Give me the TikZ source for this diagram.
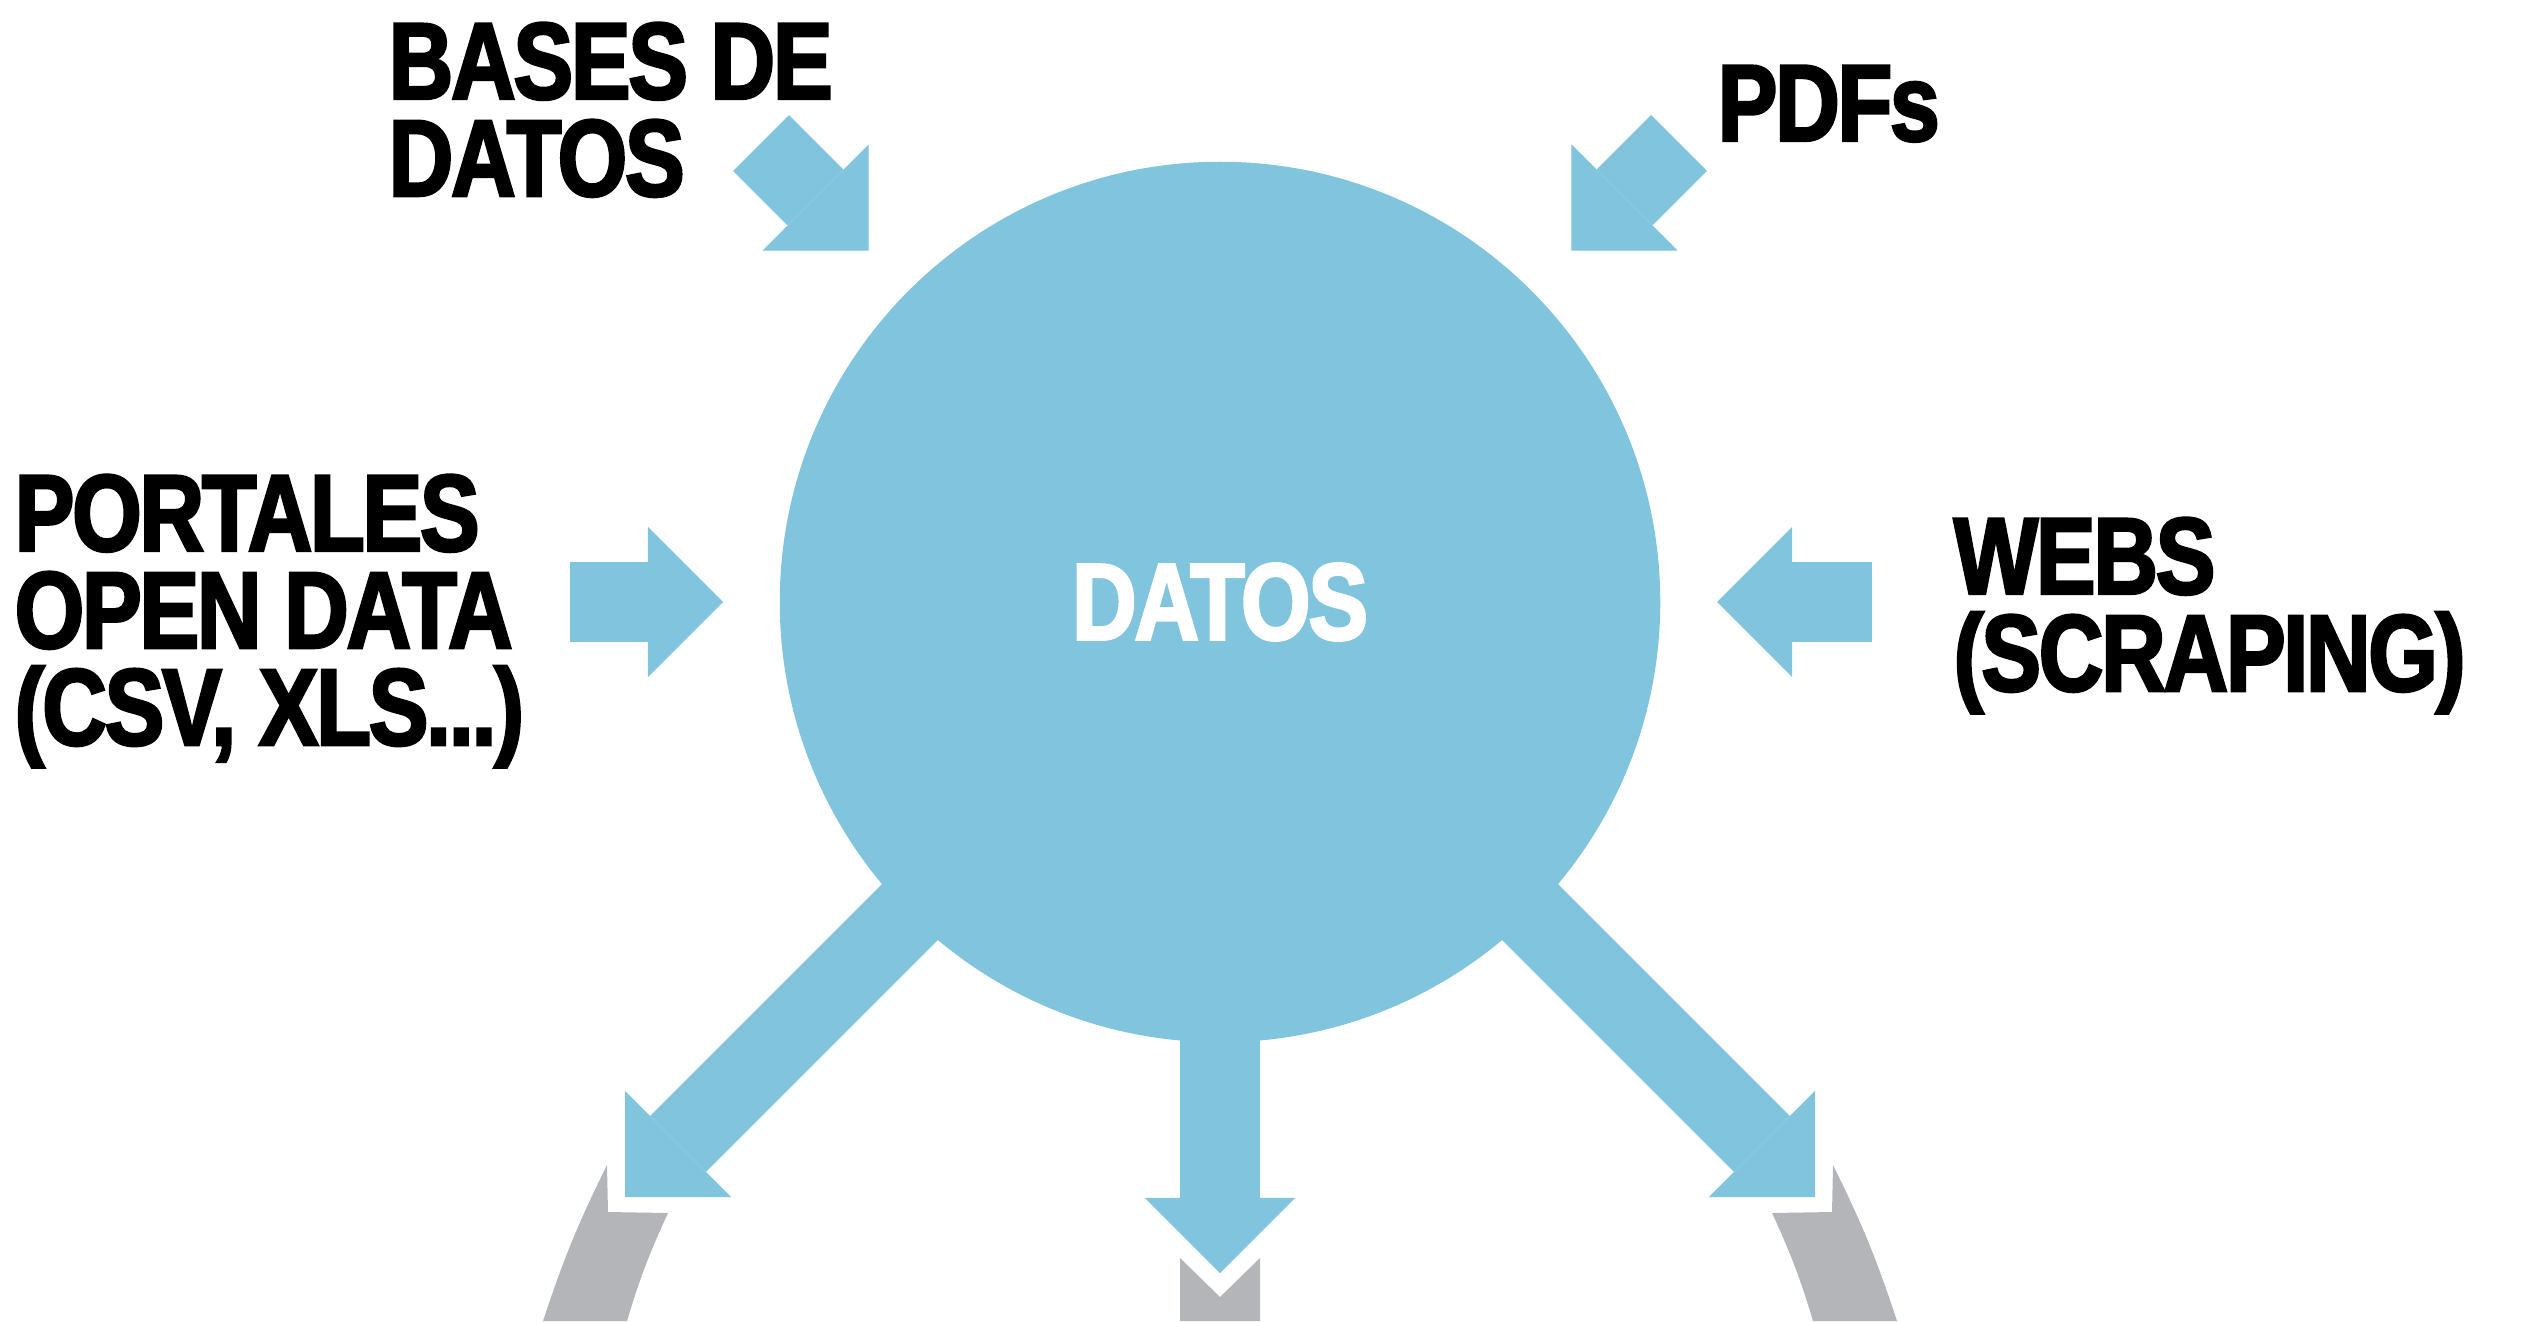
\documentclass[tikz,border=0pt]{standalone}
\usepackage{fontspec}
\newfontfamily\heavyfont{Liberation Sans}[FakeStretch=0.82, LetterSpace=-2, BoldFeatures={FakeBold=2.5}]
\usetikzlibrary{arrows.meta}
\definecolor{datablue}{RGB}{128,197,221}
\definecolor{ringgrey}{RGB}{179,181,185}

\begin{document}
\begin{tikzpicture}[x=0.01cm, y=-0.01cm,
      lbl/.style={anchor=north west, inner sep=0pt, align=left,
                  font=\heavyfont\bfseries\fontsize{31}{27.6}\selectfont},
      hub/.style={circle, fill=datablue, minimum size=8.8cm, inner sep=0pt,
                  text=white, font=\heavyfont\bfseries\fontsize{31}{27.6}\selectfont},
      fat/.style={draw=datablue, line width=0.79cm,
                  -{Triangle[length=0.75cm, width=1.5cm, line width=0pt]}},
      feed/.style={fat, shorten >=0.56cm},
      outflow/.style={fat, shorten <=-0.12cm},
      band/.style={fill=ringgrey}]
    \useasboundingbox (0,0) rectangle (2534,1321);
    \fill[band] (607,1165) -- (608,1212) -- (668,1213) to[bend right=4] (627,1321)
                -- (543,1321) to[bend left=4] cycle;
    \fill[band] (1180,1321) -- (1180,1258) -- (1220,1297) -- (1260,1258) -- (1260,1321) -- cycle;
    \fill[band] (1833,1165) -- (1832,1212) -- (1772,1213) to[bend left=4] (1813,1321)
                -- (1897,1321) to[bend right=4] cycle;

    \node[hub] (datos) at (1220,602) {DATOS};

    \node[lbl] (bases)    at (388,22)   {BASES DE\\DATOS};
    \node[lbl] (pdfs)     at (1717,65)  {PDFs};
    \node[lbl] (portales) at (14,474)   {PORTALES\\OPEN DATA\\(CSV, XLS...)};
    \node[lbl] (webs)     at (1953,517) {WEBS\\(SCRAPING)};

    \coordinate (bases-tail)    at (761,143);
    \coordinate (pdfs-tail)     at (1679,143);
    \coordinate (portales-tail) at (570,602);
    \coordinate (webs-tail)     at (1872,602);
    \coordinate (left-tip)      at (625,1197);
    \coordinate (down-tip)      at (1220,1273);
    \coordinate (right-tip)     at (1815,1197);

    \draw[feed] (bases-tail) -- (datos);
    \draw[feed] (pdfs-tail) -- (datos);
    \draw[feed] (portales-tail) -- (datos);
    \draw[feed] (webs-tail) -- (datos);
    \draw[outflow] (datos) -- (left-tip);
    \draw[outflow] (datos) -- (down-tip);
    \draw[outflow] (datos) -- (right-tip);
  \end{tikzpicture}
\end{document}
